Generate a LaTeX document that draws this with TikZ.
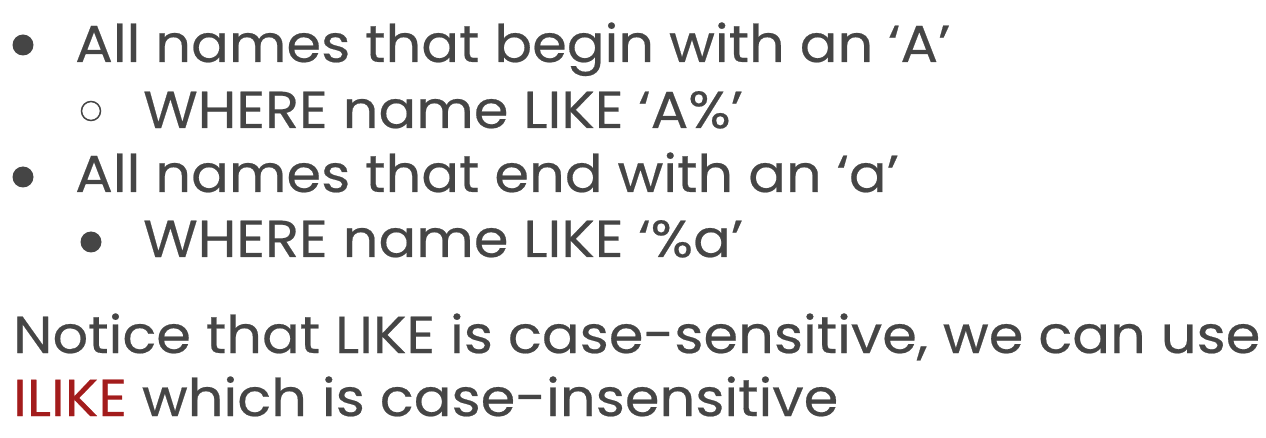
\documentclass[tikz,border=0pt]{standalone}
\usepackage{fontspec}
\setmainfont{Poppins}[FakeStretch=1.075, FakeBold=0.4]
\usepackage{tikz}
\definecolor{slidegray}{HTML}{454545}
\definecolor{slidered}{HTML}{A31C1C}
\tikzset{
  line/.style={anchor=base west, inner sep=0pt, text=slidegray, font=\fontsize{52}{60}\selectfont},
  dot/.style={circle, fill=slidegray, minimum size=21pt, inner sep=0pt},
  ring/.style={circle, draw=slidegray, line width=1.5pt, minimum size=19pt, inner sep=0pt}
}

\begin{document}
\begin{tikzpicture}[x=1pt, y=-1pt]
 \useasboundingbox (0,0) rectangle (1266,438);

 % first bullet and its sub item
 \node[dot]  (d1) at (23, 45)  {};
 \node[line] (l1) at (75, 62)  {All names that begin with an `A'};
 \node[ring] (r1) at (91, 111) {};
 \node[line] (l2) at (143, 128) {WHERE name LIKE `A\%'};

 % second bullet and its sub item
 \node[dot]  (d2) at (23, 177) {};
 \node[line] (l3) at (75, 192) {All names that end with an `a'};
 \node[dot]  (d3) at (91, 242) {};
 \node[line] (l4) at (143, 257) {WHERE name LIKE `\%a'};

 % the note
 \node[line] (n1) at (13, 353) {Notice that LIKE is case-sensitive, we can use};
 \node[line] (n2) at (13, 416) {\textcolor{slidered}{ILIKE} which is case-insensitive};
\end{tikzpicture}
\end{document}
